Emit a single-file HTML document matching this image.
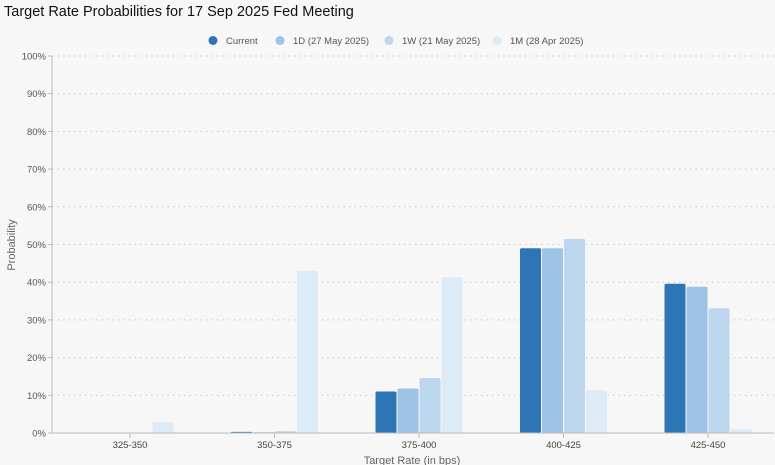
<!DOCTYPE html>
<html><head><meta charset="utf-8"><style>
body{margin:0;background:#f7f7f7;font-family:"Liberation Sans",sans-serif;}
svg{display:block}
</style></head><body>
<svg id="c" width="775" height="465">
<text x="4" y="16" font-size="14.5" fill="#111">Target Rate Probabilities for 17 Sep 2025 Fed Meeting</text>
<g id="legend"></g>
<g id="grid"></g><g id="bars"></g><g id="axes"></g>
<text x="0" y="0" transform="translate(15,245) rotate(-90)" text-anchor="middle" font-size="11" fill="#666">Probability</text>
<text x="412" y="464" text-anchor="middle" font-size="11" fill="#666">Target Rate (in bps)</text>
</svg>
<script>
const categories=["325-350","350-375","375-400","400-425","425-450"];
const seriesNames=["Current","1D (27 May 2025)","1W (21 May 2025)","1M (28 Apr 2025)"];
const current=[0,0.3,11.0,49.0,39.6];
const d1=[0,0.2,11.8,49.0,38.8];
const w1=[0,0.5,14.6,51.5,33.1];
const m1=[2.9,43.0,41.3,11.3,1.0];
const yTicks=[0,10,20,30,40,50,60,70,80,90,100];
const series=[current,d1,w1,m1];
const colors=["#2e75b6","#9dc3e6","#bdd7ee","#ddebf7"];
const NS="http://www.w3.org/2000/svg";
const X0=52,X1=774,Y0=433,Y1=56;
const y=v=>Y0-(v/100)*(Y0-Y1);
const band=144.5;
const cx=i=>130+band*i;
function mk(t,a,p){const e=document.createElementNS(NS,t);for(const k in a)e.setAttribute(k,a[k]);p.appendChild(e);return e;}
const grid=document.getElementById('grid'),axes=document.getElementById('axes'),bars=document.getElementById('bars'),lg=document.getElementById('legend');
yTicks.forEach(t=>{
  const l=mk('line',{x1:X0,x2:X1,y1:y(t),y2:y(t),stroke:'#ccc','stroke-dasharray':'1.5,4'},grid);
  
  
  mk('line',{x1:X0-4,x2:X0,y1:y(t),y2:y(t),stroke:'#bbb'},axes);
  const tx=mk('text',{x:X0-6,y:y(t)+3.5,'text-anchor':'end','font-size':'9.5',fill:'#555'},axes);
  tx.textContent=t+'%';
  
  
});
mk('line',{x1:X0,x2:X0,y1:Y1,y2:Y0,stroke:'#bbb'},axes);
mk('line',{x1:X0,x2:X1,y1:Y0,y2:Y0,stroke:'#bbb'},axes);
const bw=21,step=22;
categories.forEach((c,i)=>{
  mk('line',{x1:cx(i),x2:cx(i),y1:Y0,y2:Y0+5,stroke:'#bbb'},axes);
  const tx=mk('text',{x:cx(i),y:Y0+15,'text-anchor':'middle','font-size':'9.5',fill:'#444'},axes);
  tx.textContent=c;
  
  
  series.forEach((s,j)=>{
    const v=s[i]; if(v<=0) return;
    const x=cx(i)-2*step+j*step+0.5;
    const r=mk('rect',{x:x,y:y(v),width:bw,height:Y0-y(v),fill:colors[j],rx:1.5},bars);
    
    
  });
});
const lx=[213,280,389,497];
seriesNames.forEach((n,j)=>{
  const g=mk('g',{},lg);
  
  
  mk('circle',{cx:lx[j],cy:40.5,r:4.5,fill:colors[j]},g);
  const t=mk('text',{x:lx[j]+13,y:44,'font-size':'9.5',fill:'#555'},g);
  t.textContent=n;
});
</script>
</body></html>
